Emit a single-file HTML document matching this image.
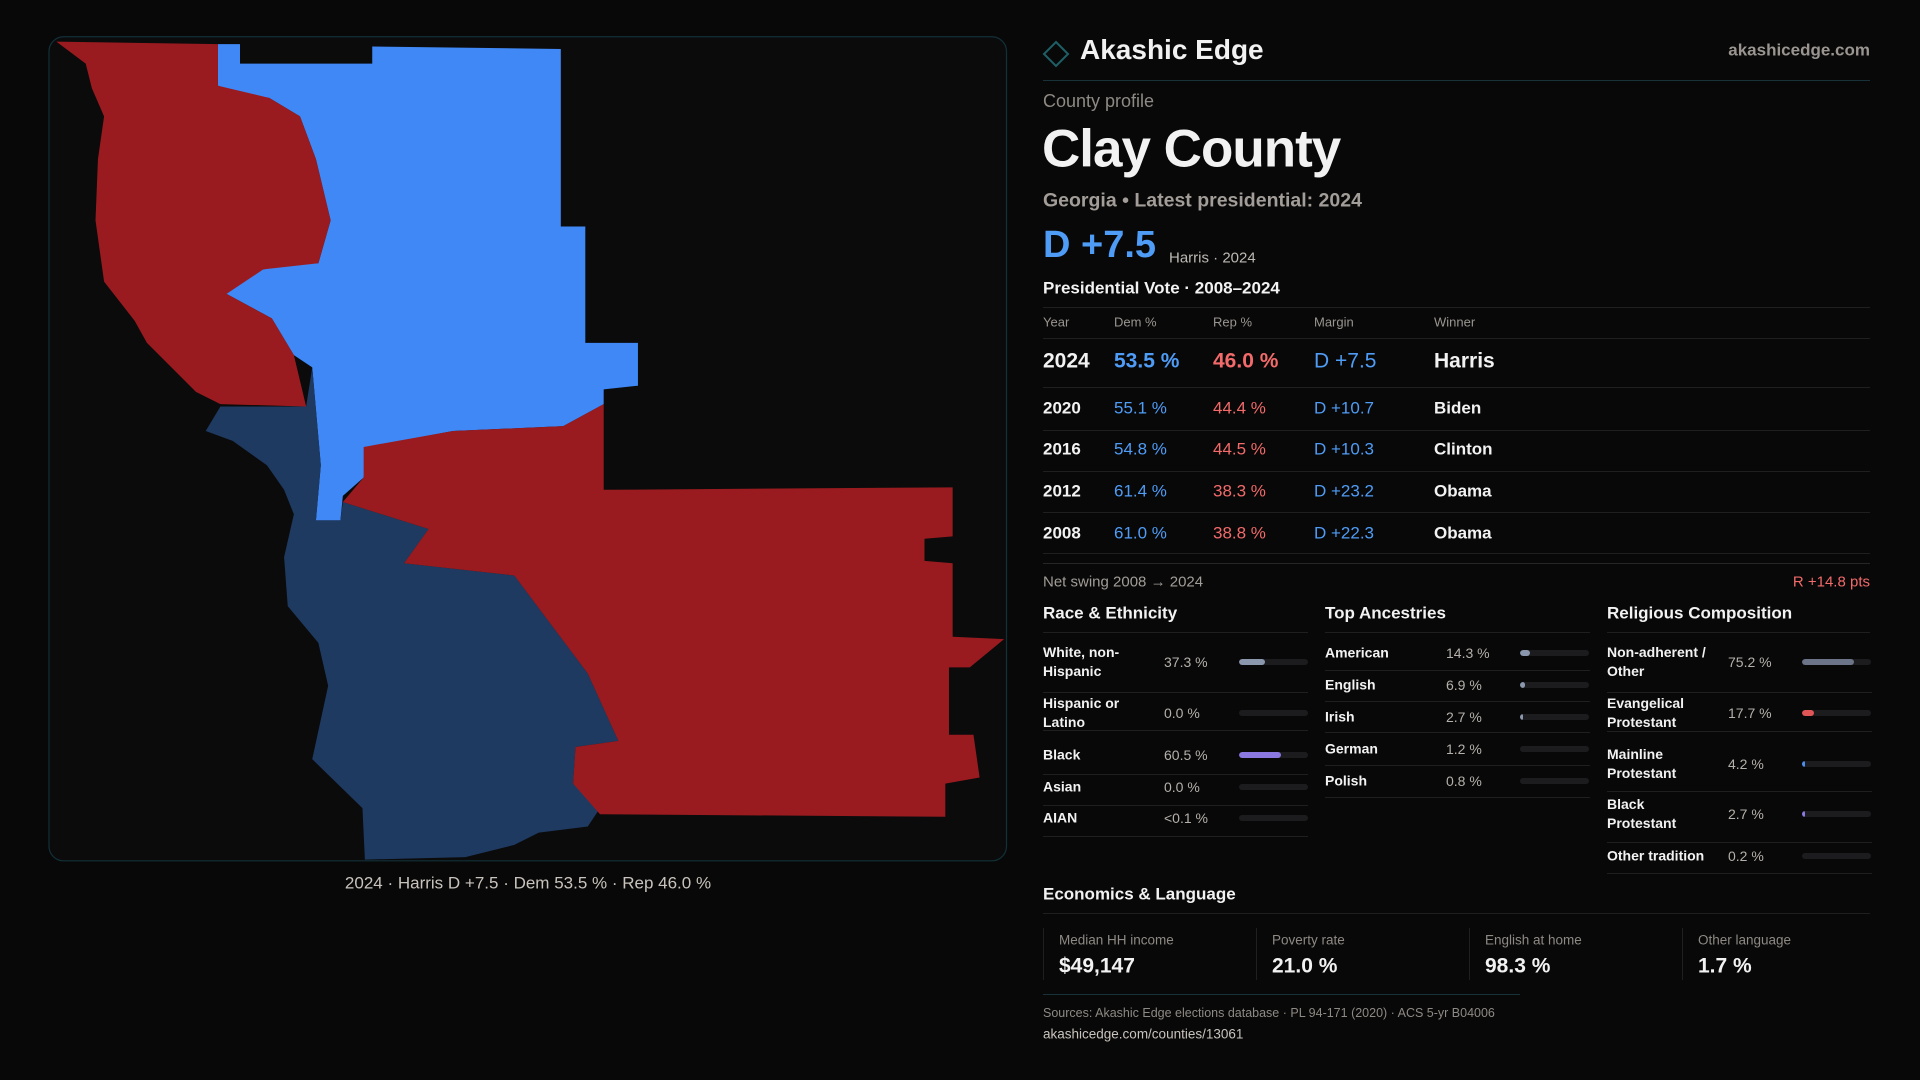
<!DOCTYPE html>
<html><head><meta charset="utf-8">
<style>
*{margin:0;padding:0;box-sizing:border-box}
body{width:1920px;height:1080px;background:#080808;position:relative;overflow:hidden;font-family:"Liberation Sans",sans-serif;color:#f2f2f2}
.t{position:absolute;line-height:1;transform:translateY(-50%);white-space:nowrap}
.hl{position:absolute;height:1px;background:#1f1f1f}
.b{font-weight:bold}
.blue{color:#4f9cf7}.red{color:#f26a6a}
.muted{color:#9a9590}
.track{position:absolute;height:6px;border-radius:3px;background:#1c1c1e;overflow:hidden}
.fill{height:100%;border-radius:3px}
</style></head><body>
<svg style="position:absolute;left:0;top:0" width="1920" height="1080" viewBox="0 0 1568 882">
<rect x="40" y="30" width="782" height="673" rx="12" fill="#0b0b0c" stroke="#123038" stroke-width="1"/>
<polygon fill="#3f88f5" points="178,36 196,36 196,52 304,52 304,38 458,40 458,185 478,185 478,280 521,280 521,315 493,318 493,330 460,348 370,352 300,365 297,390 280,405 278,425 258,425 262,380 255,300 240,290 222,260 185,240 195,225 215,220 240,215 260,215 270,180 258,130 245,95 220,80 195,75 178,70"/>
<polygon fill="#9a1b1f" points="46,34 178,36 178,70 220,80 245,95 258,130 270,180 260,215 215,220 185,240 222,260 240,290 250,332 180,330 160,320 120,280 110,262 85,230 78,180 80,130 85,95 75,72 70,52"/>
<polygon fill="#1f3a61" points="180,332 250,332 255,300 262,380 258,425 278,425 280,410 350,432 330,460 420,470 480,550 505,605 470,610 468,640 490,660 480,675 440,680 420,690 380,700 298,702 296,660 255,620 268,560 260,525 235,495 232,455 240,420 232,400 218,380 190,360 168,352"/>
<polygon fill="#9a1b1f" points="297,365 370,352 460,348 493,330 493,400 778,398 778,438 755,440 755,458 778,460 778,520 820,522 792,545 775,545 775,600 795,600 800,635 772,640 772,667 490,665 468,640 470,610 505,605 480,550 420,470 330,460 350,432 280,410 297,390"/>
</svg>
<div class="t" style="left:528px;top:883px;transform:translate(-50%,-50%);font-size:17px;color:#c9c3bd">2024 · Harris D +7.5 · Dem 53.5 % · Rep 46.0 %</div>

<svg style="position:absolute;left:1042px;top:40px" width="28" height="28"><polygon points="14,2 26,14 14,26 2,14" fill="none" stroke="#1e5f66" stroke-width="2"/></svg>
<div class="t b" style="left:1080px;top:50px;font-size:28px">Akashic Edge</div>
<div class="t b" style="right:50px;top:50px;font-size:17px;color:#9a9590">akashicedge.com</div>
<div class="hl" style="left:1043px;width:827px;top:80px;background:#173238"></div>
<div class="t" style="left:1043px;top:101px;font-size:18px;color:#8e8984">County profile</div>
<div class="t b" style="left:1042px;top:149px;font-size:53px;letter-spacing:-1px">Clay County</div>
<div class="t b" style="left:1043px;top:201px;font-size:19.5px;color:#a29d98">Georgia • Latest presidential: 2024</div>
<div class="t blue" style="left:1043px;top:245px;font-size:38px;font-weight:bold">D +7.5</div>
<div class="t" style="left:1169px;top:258px;font-size:15px;color:#bdb8b3">Harris · 2024</div>
<div class="t b" style="left:1043px;top:288px;font-size:17px">Presidential Vote · 2008–2024</div>
<div class="hl" style="left:1043px;width:827px;top:307px"></div>
<div id="vt"></div>
<div class="t" style="left:1043px;top:582px;font-size:15px;color:#a29d98">Net swing 2008 → 2024</div>
<div class="t red" style="right:50px;top:582px;font-size:15px">R +14.8 pts</div>

<div class="t b" style="left:1043px;top:613px;font-size:17px">Race &amp; Ethnicity</div>
<div class="t b" style="left:1325px;top:613px;font-size:17px">Top Ancestries</div>
<div class="t b" style="left:1607px;top:613px;font-size:17px">Religious Composition</div>
<div class="hl" style="left:1043px;width:265px;top:632px"></div>
<div class="hl" style="left:1325px;width:265px;top:632px"></div>
<div class="hl" style="left:1607px;width:263px;top:632px"></div>
<div id="demo"></div>

<div class="t b" style="left:1043px;top:894px;font-size:17px">Economics &amp; Language</div>
<div class="hl" style="left:1043px;width:827px;top:913px"></div>
<div id="econ"></div>
<div class="hl" style="left:1043px;width:477px;top:994px;background:#173238"></div>
<div class="t" style="left:1043px;top:1013px;font-size:12.5px;color:#8e8984">Sources: Akashic Edge elections database · PL 94-171 (2020) · ACS 5-yr B04006</div>
<div class="t" style="left:1043px;top:1034px;font-size:13.5px;color:#c9c3bd">akashicedge.com/counties/13061</div>

<script>
const years=["2024","2020","2016","2012","2008"];
const demPct=[53.5,55.1,54.8,61.4,61.0];
const repPct=[46.0,44.4,44.5,38.3,38.8];
const marginValues=[7.5,10.7,10.3,23.2,22.3];
const winners=["Harris","Biden","Clinton","Obama","Obama"];
const raceLabels=["White, non-<br>Hispanic","Hispanic or<br>Latino","Black","Asian","AIAN"];
const raceValues=[37.3,0.0,60.5,0.0,0.05];
const raceText=["37.3 %","0.0 %","60.5 %","0.0 %","<0.1 %"];
const raceColors=["#8a97ad","#8a97ad","#8b78e0","#8a97ad","#8a97ad"];
const ancLabels=["American","English","Irish","German","Polish"];
const ancValues=[14.3,6.9,2.7,1.2,0.8];
const relLabels=["Non-adherent /<br>Other","Evangelical<br>Protestant","Mainline<br>Protestant","Black<br>Protestant","Other tradition"];
const relValues=[75.2,17.7,4.2,2.7,0.2];
const relColors=["#6b7488","#e05555","#4a8ef0","#8b78e0","#6b7488"];
const econLabels=["Median HH income","Poverty rate","English at home","Other language"];
const econValues=["$49,147","21.0 %","98.3 %","1.7 %"];

function txt(parent,cls,style,html){const d=document.createElement('div');d.className='t '+cls;d.style.cssText=style;d.innerHTML=html;parent.appendChild(d);return d;}
const vt=document.getElementById('vt');
txt(vt,'muted','left:1043px;top:322px;font-size:13px','Year');
txt(vt,'muted','left:1114px;top:322px;font-size:13px','Dem %');
txt(vt,'muted','left:1213px;top:322px;font-size:13px','Rep %');
txt(vt,'muted','left:1314px;top:322px;font-size:13px','Margin');
txt(vt,'muted','left:1434px;top:322px;font-size:13px','Winner');
const hl=document.createElement('div');hl.className='hl';hl.style.cssText='left:1043px;width:827px;top:338px';vt.appendChild(hl);
const rowY=[361,408,449,491,533], lineY=[387,430,471,512,553];
years.forEach((y,i)=>{
  const fs=i===0?21:17;const w=i===0?'bold':'normal';
  const m=marginValues[i];
  const r=document.createElement('div');
  
  
  vt.appendChild(r);
  txt(r,'b','left:1043px;top:'+rowY[i]+'px;font-size:'+fs+'px',y);
  txt(r,'blue','left:1114px;top:'+rowY[i]+'px;font-size:'+fs+'px;font-weight:'+w,demPct[i].toFixed(1)+' %');
  txt(r,'red','left:1213px;top:'+rowY[i]+'px;font-size:'+fs+'px;font-weight:'+w,repPct[i].toFixed(1)+' %');
  txt(r,m>=0?'blue':'red','left:1314px;top:'+rowY[i]+'px;font-size:'+fs+'px',(m>=0?'D +':'R +')+Math.abs(m).toFixed(1));
  txt(r,'b','left:1434px;top:'+rowY[i]+'px;font-size:'+fs+'px',winners[i]);
  const l=document.createElement('div');l.className='hl';l.style.cssText='left:1043px;width:827px;top:'+lineY[i]+'px';vt.appendChild(l);
});
const l2=document.createElement('div');l2.className='hl';l2.style.cssText='left:1043px;width:827px;top:563px;background:#262626';vt.appendChild(l2);

const demo=document.getElementById('demo');
function barList(x0,valX,barX,labels,vals,texts,colors,ys,lines,name){
  labels.forEach((lab,i)=>{
    const g=document.createElement('div');
    
    
    demo.appendChild(g);
    txt(g,'b','left:'+x0+'px;top:'+ys[i]+'px;font-size:14px;line-height:19px;white-space:nowrap',lab);
    txt(g,'','left:'+valX+'px;top:'+ys[i]+'px;font-size:14px;color:#b5b0ab',texts[i]);
    const tr=document.createElement('div');tr.className='track';
    
    
    tr.style.cssText='left:'+barX+'px;width:69px;top:'+(ys[i]-3)+'px';
    const f=document.createElement('div');f.className='fill';
    f.style.width=(vals[i]>=2?Math.max(3,69*vals[i]/100):0)+'px';f.style.background=colors[i];
    tr.appendChild(f);g.appendChild(tr);
    const l=document.createElement('div');l.className='hl';l.style.cssText='left:'+x0+'px;width:265px;top:'+lines[i]+'px';g.appendChild(l);
  });
}
barList(1043,1164,1239,raceLabels,raceValues,raceText,raceColors,[662,713,755,787,818],[692,730,774,805,836],'race');
barList(1325,1446,1520,ancLabels,ancValues,ancValues.map(v=>v.toFixed(1)+' %'),ancLabels.map(()=>'#8a97ad'),[653,685,717,749,781],[670,701,732,765,797],'ancestry');
barList(1607,1728,1802,relLabels,relValues,relValues.map(v=>v.toFixed(1)+' %'),relColors,[662,713,764,814,856],[692,731,791,842,873],'religion');

const econ=document.getElementById('econ');
econLabels.forEach((lab,i)=>{
  const x=1043+213*i;
  const g=document.createElement('div');
  
  
  g.style.cssText='position:absolute;left:'+x+'px;top:928px;width:213px;height:52px;border-left:1px solid #1f1f1f';
  econ.appendChild(g);
  txt(econ,'','left:'+(x+16)+'px;top:940px;font-size:13.5px;color:#8e8984',lab);
  txt(econ,'b','left:'+(x+16)+'px;top:966px;font-size:21px',econValues[i]);
});
</script>
</body></html>
